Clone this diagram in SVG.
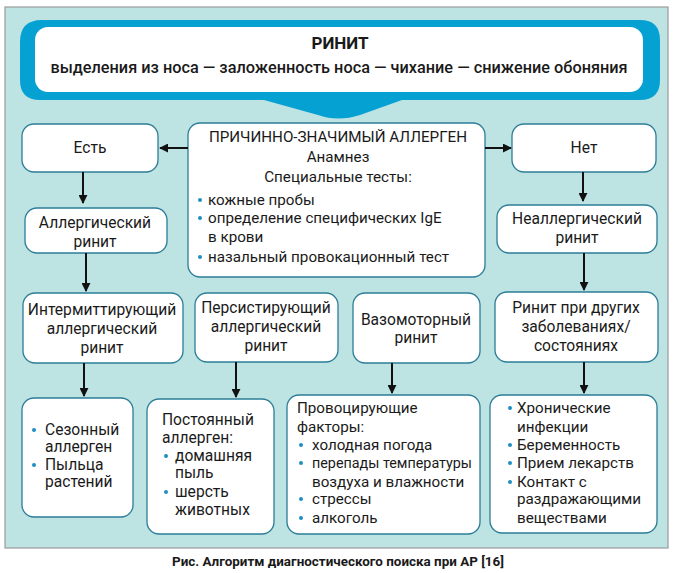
<svg xmlns="http://www.w3.org/2000/svg" width="681" height="573" viewBox="0 0 681 573">
<defs>
<marker id="ah" viewBox="0 0 10 10" refX="9" refY="5" markerWidth="4.5" markerHeight="4.5" orient="auto" markerUnits="strokeWidth">
<path d="M0,0 L10,5 L0,10 z" fill="#111"/>
</marker>
<style>
.box{fill:#fff;stroke:#2b7d98;stroke-width:1.3}
.t{font-family:Roboto,"Liberation Sans",sans-serif;font-size:15.2px;fill:#1a1a1a}
.c{text-anchor:middle}
.m{font-size:15.6px}
.b{fill:#1f8fc2}
.ln{stroke:#111;stroke-width:2;fill:none;marker-end:url(#ah)}
</style>
</defs>
<rect x="0" y="0" width="681" height="573" fill="#fff"/>
<rect x="5" y="7" width="663" height="541" fill="#bde3e3" stroke="#9a9a9a" stroke-width="1.2"/>
<g id="header">
<path d="M42,20 H640 Q660,20 660,40 V80 Q660,100 640,100 H402 L360,115 Q338,122 318,115 L264,100 H40 Q20,100 20,80 V42 Q20,20 42,20 Z" fill="#06a1d3"/>
<rect x="35" y="27" width="608" height="65" rx="13" fill="#fff"/>
<text class="t c" x="340" y="49" style="font-weight:bold;font-size:17px">РИНИТ</text>
<text class="t c" x="339" y="73" style="font-weight:500;font-size:16.3px">выделения из носа — заложенность носа — чихание — снижение обоняния</text>
</g>
<g id="allergen">
<rect class="box" x="188" y="123" width="297" height="154" rx="12"/>
<text class="t c" x="338" y="142">ПРИЧИННО-ЗНАЧИМЫЙ АЛЛЕРГЕН</text>
<text class="t c" x="338" y="162">Анамнез</text>
<text class="t c" x="338" y="182">Специальные тесты:</text>
<circle class="b" cx="200" cy="200" r="2"/>
<circle class="b" cx="200" cy="218" r="2"/>
<circle class="b" cx="200" cy="257" r="2"/>
<text class="t" x="208" y="205">кожные пробы</text>
<text class="t" x="208" y="223">определение специфических IgE</text>
<text class="t" x="208" y="242">в крови</text>
<text class="t" x="208" y="262">назальный провокационный тест</text>
</g>
<g id="est">
<rect class="box" x="22" y="124" width="136" height="48" rx="12"/>
<text class="t c m" x="90" y="153">Есть</text>
</g>
<g id="net">
<rect class="box" x="512" y="124" width="144" height="48" rx="12"/>
<text class="t c m" x="584" y="153">Нет</text>
</g>
<g id="allergic">
<rect class="box" x="25" y="208" width="142" height="45" rx="12"/>
<text class="t c m" x="95" y="228">Аллергический</text>
<text class="t c m" x="95" y="247">ринит</text>
</g>
<g id="nonallergic">
<rect class="box" x="497" y="205" width="160" height="48" rx="12"/>
<text class="t c m" x="577" y="224">Неаллергический</text>
<text class="t c m" x="577" y="243">ринит</text>
</g>
<g id="intermittent">
<rect class="box" x="23" y="293" width="160" height="70" rx="12"/>
<text class="t c m" x="102" y="315">Интермиттирующий</text>
<text class="t c m" x="102" y="334">аллергический</text>
<text class="t c m" x="102" y="353">ринит</text>
</g>
<g id="persistent">
<rect class="box" x="195" y="293" width="143" height="69" rx="12"/>
<text class="t c m" x="266" y="313">Персистирующий</text>
<text class="t c m" x="266" y="332">аллергический</text>
<text class="t c m" x="266" y="351">ринит</text>
</g>
<g id="vasomotor">
<rect class="box" x="353" y="293" width="127" height="70" rx="12"/>
<text class="t c m" x="416" y="325">Вазомоторный</text>
<text class="t c m" x="416" y="343">ринит</text>
</g>
<g id="other">
<rect class="box" x="495" y="292" width="163" height="70" rx="12"/>
<text class="t c m" x="576" y="313">Ринит при других</text>
<text class="t c m" x="576" y="332">заболеваниях/</text>
<text class="t c m" x="576" y="351">состояниях</text>
</g>
<g id="seasonal">
<rect class="box" x="22" y="398" width="111" height="119" rx="12"/>
<circle class="b" cx="34" cy="430" r="2"/>
<circle class="b" cx="34" cy="465" r="2"/>
<text class="t m" x="45" y="435">Сезонный</text>
<text class="t m" x="45" y="452">аллерген</text>
<text class="t m" x="45" y="470">Пыльца</text>
<text class="t m" x="45" y="487">растений</text>
</g>
<g id="permanent">
<rect class="box" x="147" y="399" width="127" height="135" rx="12"/>
<text class="t m" x="162" y="425">Постоянный</text>
<text class="t m" x="162" y="443">аллерген:</text>
<circle class="b" cx="166" cy="456" r="2"/>
<circle class="b" cx="166" cy="492" r="2"/>
<text class="t m" x="175" y="461">домашняя</text>
<text class="t m" x="175" y="478">пыль</text>
<text class="t m" x="175" y="497">шерсть</text>
<text class="t m" x="175" y="515">животных</text>
</g>
<g id="provoking">
<rect class="box" x="287" y="395" width="193" height="139" rx="12"/>
<text class="t" x="297" y="413">Провоцирующие</text>
<text class="t" x="297" y="432">факторы:</text>
<circle class="b" cx="301" cy="445" r="2"/>
<circle class="b" cx="301" cy="463" r="2"/>
<circle class="b" cx="301" cy="499" r="2"/>
<circle class="b" cx="301" cy="518" r="2"/>
<text class="t" x="312" y="450">холодная погода</text>
<text class="t" x="312" y="468" textLength="160" lengthAdjust="spacingAndGlyphs">перепады температуры</text>
<text class="t" x="312" y="487">воздуха и влажности</text>
<text class="t" x="312" y="504">стрессы</text>
<text class="t" x="312" y="523">алкоголь</text>
</g>
<g id="conditions">
<rect class="box" x="490" y="395" width="167" height="138" rx="12"/>
<circle class="b" cx="510" cy="408" r="2"/>
<circle class="b" cx="510" cy="445" r="2"/>
<circle class="b" cx="510" cy="463" r="2"/>
<circle class="b" cx="510" cy="482" r="2"/>
<text class="t" x="517" y="413">Хронические</text>
<text class="t" x="517" y="432">инфекции</text>
<text class="t" x="517" y="450">Беременность</text>
<text class="t" x="517" y="468">Прием лекарств</text>
<text class="t" x="517" y="487">Контакт с</text>
<text class="t" x="517" y="504">раздражающими</text>
<text class="t" x="517" y="523">веществами</text>
</g>
<g id="connectors">
<line class="ln" x1="188" y1="148" x2="160" y2="148"/>
<line class="ln" x1="485" y1="148" x2="511" y2="148"/>
<line class="ln" x1="83" y1="172" x2="83" y2="203"/>
<line class="ln" x1="583" y1="172" x2="583" y2="201"/>
<line class="ln" x1="86" y1="253" x2="86" y2="291"/>
<line class="ln" x1="584" y1="253" x2="584" y2="290"/>
<line class="ln" x1="84" y1="363" x2="84" y2="396"/>
<line class="ln" x1="236" y1="362" x2="236" y2="397"/>
<line class="ln" x1="392" y1="363" x2="392" y2="393"/>
<line class="ln" x1="584" y1="362" x2="584" y2="393"/>
</g>
<text class="t c" x="338" y="566" style="font-weight:bold;font-size:13px" textLength="332" lengthAdjust="spacingAndGlyphs">Рис. Алгоритм диагностического поиска при АР [16]</text>
</svg>
